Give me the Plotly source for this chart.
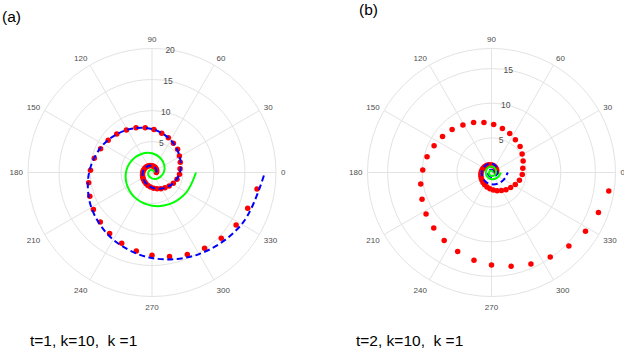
import plotly.graph_objects as go

# ---- data (theta in degrees, r in axis units) ----
red_theta = [351.0, 339.5, 328.0, 316.5, 304.8, 293.3, 281.8, 270.0, 258.7, 246.8,
             235.2, 223.8, 212.3, 201.0, 189.3, 177.9, 166.2, 155.1, 143.7, 132.5,
             121.1, 109.7, 98.6, 87.4, 76.1, 64.9, 53.8, 42.2, 31.2, 20.1, 7.7,
             -3.8, -15.3, -26.8, -38.3, -49.8, -61.3, -72.8, -84.3, -95.8, -107.3,
             -118.8, -130.3, -141.8, -153.3, -164.8, -176.3, -187.8, -199.3, -210.8,
             -222.3, -233.8, -245.3, -256.8, -268.3, -279.8, -291.3, -302.8, -314.3,
             -325.8, -337.3, -348.8, -360.3]
red_r = [17.14, 16.48, 16.0, 15.4, 14.86, 14.39, 13.84, 13.36, 12.9, 12.4,
         11.97, 11.55, 11.18, 10.74, 10.35, 9.93, 9.58, 9.14, 8.77, 8.41,
         7.99, 7.66, 7.30, 6.94, 6.54, 6.21, 5.84, 5.57, 5.17, 4.86, 4.56,
         4.45, 4.18, 3.85, 3.52, 3.24, 2.98, 2.76, 2.55, 2.36, 2.19,
         2.03, 1.89, 1.77, 1.67, 1.59, 1.52, 1.46, 1.40, 1.35,
         1.30, 1.25, 1.20, 1.15, 1.10, 1.05, 1.00, 0.95, 0.90,
         0.85, 0.80, 0.75, 0.70]

curve_theta = [-360, -330, -300, -270, -240, -210, -180, -150, -120, -90, -60, -30,
               0, 30, 60, 90, 120, 150, 180, 210, 240, 270, 300, 330, 360]

blue_a_r = [0.70, 0.82, 0.96, 1.09, 1.22, 1.35, 1.50, 1.68, 2.00, 2.44, 3.00, 3.75,
            4.50, 5.15, 6.05, 7.02, 7.96, 9.05, 10.15, 11.3, 12.5, 13.8, 15.2, 16.7, 18.2]
green_a_r = [0.30, 0.34, 0.38, 0.42, 0.48, 0.54, 0.60, 0.70, 0.80, 0.95, 1.20, 1.50,
             1.90, 2.30, 2.70, 3.10, 3.45, 3.80, 4.20, 4.55, 4.95, 5.35, 5.85, 6.40, 7.10]

blue_b_r = [0.30, 0.33, 0.37, 0.40, 0.44, 0.47, 0.50, 0.55, 0.60, 0.65, 0.72, 0.78,
            0.85, 0.98, 1.15, 1.30, 1.33, 1.36, 1.40, 1.47, 1.58, 1.70, 1.85, 2.05, 2.35]
green_b_r = [0.15, 0.18, 0.22, 0.25, 0.28, 0.32, 0.35, 0.40, 0.45, 0.50, 0.55, 0.60,
             0.65, 0.72, 0.80, 0.85, 0.86, 0.85, 0.82, 0.85, 0.90, 0.97, 1.05, 1.17, 1.35]

angle_ticks = [0, 30, 60, 90, 120, 150, 180, 210, 240, 270, 300, 330]
angle_labels = ["0", "30", "60", "90", "120", "150", "180", "210", "240", "270", "300", "330"]
radial_ticks_a = [5, 10, 15, 20]
radial_ticks_b = [5, 10, 15]
rmax_a = 20
rmax_b = 17.9

panel_labels = ["(a)", "(b)"]
captions = ["t=1, k=10,\u00a0\u00a0k\u00a0=1", "t=2, k=10,\u00a0\u00a0k\u00a0=1"]

RED = "#ff0000"
BLUE = "#0000ff"
GREEN = "#00ff00"
GRID = "#e3e3e3"
TICK = "#4d4d4d"
FONT = "Liberation Sans, Arial, sans-serif"
RADIAL_ANGLE = 86

fig = go.Figure()

def add_panel(sub, blue_r, green_r):
    fig.add_trace(go.Scatterpolar(theta=red_theta, r=red_r, mode="markers",
                                  marker=dict(color=RED, size=5.5, line=dict(width=0)),
                                  subplot=sub, showlegend=False))
    fig.add_trace(go.Scatterpolar(theta=curve_theta, r=blue_r, mode="lines",
                                  line=dict(color=BLUE, width=2, dash="6px,3.5px", shape="spline"),
                                  subplot=sub, showlegend=False))
    fig.add_trace(go.Scatterpolar(theta=curve_theta, r=green_r, mode="lines",
                                  line=dict(color=GREEN, width=2, shape="spline"),
                                  subplot=sub, showlegend=False))

add_panel("polar", blue_a_r, green_a_r)
add_panel("polar2", blue_b_r, green_b_r)

def polar_layout(domx, rmax, rticks):
    return dict(
        domain=dict(x=domx, y=[0.15527, 0.86182]),
        bgcolor="white",
        angularaxis=dict(tickmode="array", tickvals=angle_ticks, ticktext=angle_labels,
                         direction="counterclockwise", rotation=0,
                         showline=True, linecolor=GRID, linewidth=1,
                         gridcolor=GRID, gridwidth=1,
                         ticks="outside", ticklen=3, tickcolor="rgba(0,0,0,0)",
                         tickfont=dict(size=8, color=TICK, family=FONT)),
        radialaxis=dict(range=[0, rmax], tickmode="array", tickvals=rticks,
                        ticktext=[str(v) for v in rticks],
                        angle=RADIAL_ANGLE, tickangle=RADIAL_ANGLE, showline=False, ticks="",
                        gridcolor=GRID, gridwidth=1,
                        tickfont=dict(size=8.5, color=TICK, family=FONT)),
    )

fig.update_layout(
    width=624, height=351,
    margin=dict(l=0, r=0, t=0, b=0),
    paper_bgcolor="white",
    polar=polar_layout([0.04327, 0.44391], rmax_a, radial_ticks_a),
    polar2=polar_layout([0.58734, 0.98798], rmax_b, radial_ticks_b),
    font=dict(family=FONT),
)

ann = [
    dict(text=panel_labels[0], x=0 / 624, y=1 - 17 / 351, xanchor="left", yanchor="middle"),
    dict(text=panel_labels[1], x=357 / 624, y=1 - 9 / 351, xanchor="left", yanchor="middle"),
    dict(text=captions[0], x=28 / 624, y=1 - 340 / 351, xanchor="left", yanchor="middle"),
    dict(text=captions[1], x=354 / 624, y=1 - 340 / 351, xanchor="left", yanchor="middle"),
]
for a in ann:
    fig.add_annotation(xref="paper", yref="paper", showarrow=False,
                       font=dict(size=15.5, color="black", family=FONT), **a)

fig.write_html("out.html")
